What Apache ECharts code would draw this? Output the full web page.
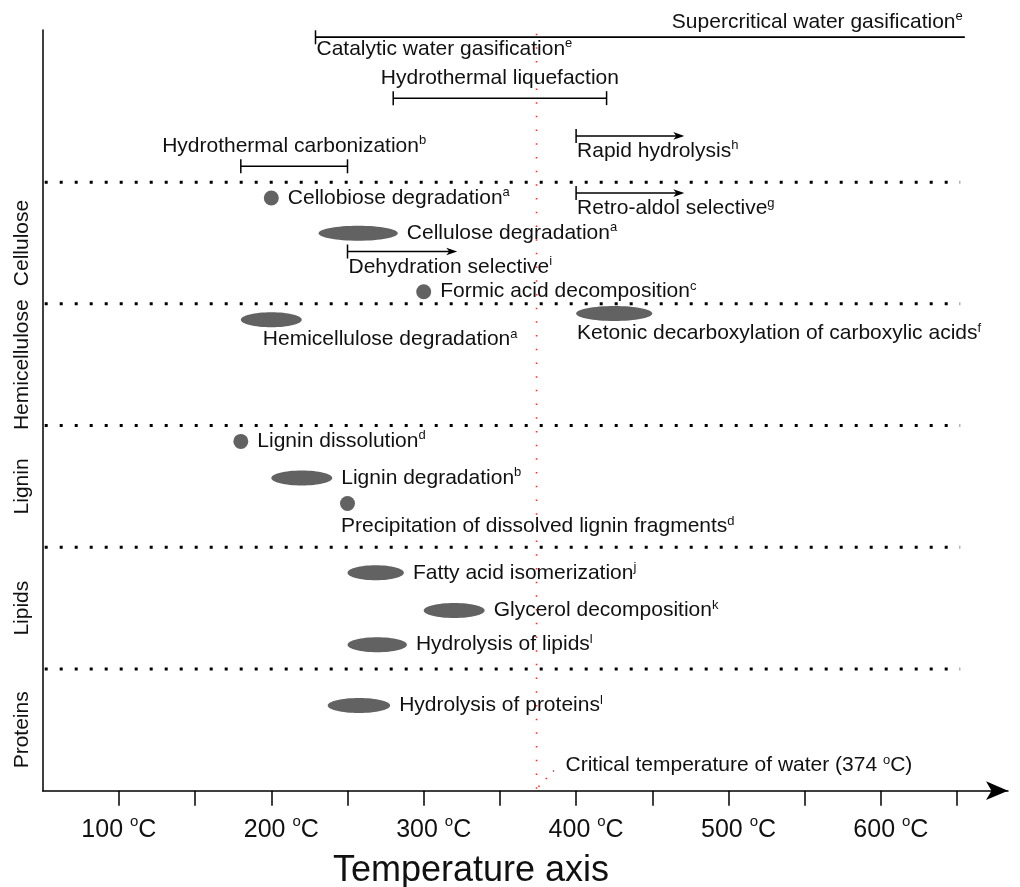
<!DOCTYPE html>
<html>
<head>
<meta charset="utf-8">
<script src="https://cdn.jsdelivr.net/npm/echarts@6/dist/echarts.min.js"></script>
<style>html,body{margin:0;padding:0;background:#fff}#c{width:1020px;height:887px}</style>
</head>
<body>
<div id="c"></div>
<script>
// ---------------- data ----------------
const tickTemps = [100, 150, 200, 250, 300, 350, 400, 450, 500, 550, 600, 650];
const labelTemps = [100, 200, 300, 400, 500, 600];
const axisTitle = 'Temperature axis';

const groupNames = ['Proteins', 'Lipids', 'Lignin', 'Hemicellulose', 'Cellulose'];
const groupCenters = [0.5, 1.5, 2.5, 3.5, 4.5];
const groupBounds = [1, 2, 3, 4, 5];
const boundFrom = 50, boundTo = 652;

const criticalTemp = 374;
const criticalTop = 6.22;

// ranges (°C) drawn as lines with end bars
const rangeNames = ['Catalytic water gasification', 'Supercritical water gasification', 'Hydrothermal liquefaction', 'Hydrothermal carbonization'];
const rangeNotes = ['e', 'e', '', 'b'];
const rangeStart = [229, 229, 280, 180];
const rangeEnd = [655, 655, 420, 250];
const rangeRow = [6.19, 6.19, 5.69, 5.13];
const rangeBars = ['start', 'none', 'both', 'both'];
const rangePlace = ['below', 'aboveEnd', 'above', 'above'];

// open-ended ranges drawn as arrows
const arrowNames = ['Rapid hydrolysis', 'Retro-aldol selective', 'Dehydration selective'];
const arrowNotes = ['h', 'g', 'i'];
const arrowStart = [400, 400, 250];
const arrowEnd = [471, 471, 322];
const arrowRow = [5.38, 4.91, 4.43];

// temperature zones drawn as ellipses
const zoneNames = ['Cellulose degradation', 'Hemicellulose degradation', 'Ketonic decarboxylation of carboxylic acids', 'Lignin degradation', 'Fatty acid isomerization', 'Glycerol decomposition', 'Hydrolysis of lipids', 'Hydrolysis of proteins'];
const zoneNotes = ['a', 'a', 'f', 'b', 'j', 'k', 'l', 'l'];
const zoneStart = [231, 180, 400, 200, 250, 300, 250, 237];
const zoneEnd = [283, 220, 450, 240, 287, 340, 289, 278];
const zoneRow = [4.58, 3.87, 3.92, 2.57, 1.79, 1.48, 1.20, 0.70];
const zonePlace = ['right', 'belowInset', 'below', 'right', 'right', 'right', 'right', 'right'];

// single temperatures drawn as dots
const pointNames = ['Cellobiose degradation', 'Formic acid decomposition', 'Lignin dissolution', 'Precipitation of dissolved lignin fragments'];
const pointNotes = ['a', 'c', 'd', 'd'];
const pointTemp = [200, 300, 180, 250];
const pointRow = [4.87, 4.10, 2.87, 2.36];
const pointPlace = ['right', 'right', 'right', 'below'];

// ---------------- styles ----------------
const FONT = '"Liberation Sans", Arial, Helvetica, sans-serif';
const TXT = '#111111';
const MARK = '#626262';
const richStyle = {
  t: { fontSize: 21, fontFamily: FONT, fill: TXT, lineHeight: 24 },
  s: { fontSize: 13, fontFamily: FONT, fill: TXT, verticalAlign: 'top', lineHeight: 15 }
};
function supText(name, note) {
  return '{t|' + name + '}' + (note ? '{s|' + note + '}' : '');
}
function labelEl(text, x, y, align) {
  return { type: 'text', x: x, y: y, style: { text: text, align: align, verticalAlign: 'middle', rich: richStyle, fontSize: 21, fontFamily: FONT, fill: TXT } };
}
const belowGap = { range: 12, arrow: 15.5, zone: 20, point: 23 };
function placeLabel(place, kind, left, right, cy) {
  if (place === 'right') return [right + 9, cy, 'left'];
  if (place === 'below') return [left + 1, cy + belowGap[kind], 'left'];
  if (place === 'belowInset') return [left + 22, cy + belowGap[kind], 'left'];
  if (place === 'above') return [(left + right) / 2, cy - 20, 'center'];
  return [right - 2, cy - 15, 'right'];
}
const lineStyle = { stroke: '#000', lineWidth: 1.5 };
function vbar(x, y) {
  return { type: 'line', shape: { x1: x, y1: y - 7, x2: x, y2: y + 7 }, style: lineStyle };
}

const chart = echarts.init(document.getElementById('c'), null, { renderer: 'canvas' });

chart.setOption({
  animation: false,
  backgroundColor: '#ffffff',
  title: {
    text: axisTitle, left: 333, top: 853, padding: 0,
    textStyle: { fontSize: 36, fontWeight: 'normal', fontFamily: FONT, color: TXT }
  },
  grid: { left: 42.7, top: 30, right: 12, bottom: 96.3, containLabel: false, outerBoundsMode: 'none' },
  xAxis: {
    type: 'value', min: 50, max: 683.4,
    axisLine: { show: true, onZero: false, symbol: ['none', 'arrow'], symbolSize: [14, 22], lineStyle: { color: '#000', width: 1.5 } },
    axisTick: { show: true, customValues: tickTemps, length: 15, inside: false, lineStyle: { color: '#000', width: 1.5 } },
    axisLabel: {
      customValues: labelTemps, margin: 24,
      formatter: function (v) {
        return (v === labelTemps[0] ? '' : '{p| }') + '{n|' + v + ' }{o|o}{n|C}';
      },
      rich: {
        p: { width: 20, fontSize: 25 },
        n: { fontSize: 25, fontFamily: FONT, color: TXT, lineHeight: 30 },
        o: { fontSize: 15, fontFamily: FONT, color: TXT, verticalAlign: 'top', lineHeight: 20 }
      }
    },
    splitLine: { show: false }
  },
  yAxis: {
    type: 'value', min: 0, max: 6.25,
    axisLine: { show: true, onZero: false, lineStyle: { color: '#000', width: 1.5 } },
    axisTick: { show: false },
    splitLine: { show: false },
    axisLabel: {
      customValues: groupCenters, rotate: 90, margin: 10,
      fontSize: 21, fontFamily: FONT, color: TXT,
      formatter: function (v) {
        for (let i = 0; i < groupCenters.length; i++) if (Math.abs(groupCenters[i] - v) < 1e-6) return groupNames[i];
        return '';
      }
    }
  },
  series: [
    { // dotted separators between groups
      type: 'custom', silent: true,
      data: groupBounds.map(function (b) { return [boundFrom, boundTo, b]; }),
      encode: { x: [0, 1], y: 2 },
      renderItem: function (params, api) {
        const a = api.coord([api.value(0), api.value(2)]);
        const b = api.coord([api.value(1), api.value(2)]);
        return { type: 'line', shape: { x1: a[0] + 2, y1: a[1], x2: b[0], y2: b[1] }, style: { stroke: '#000', lineWidth: 3, lineDash: [3, 12] } };
      }
    },
    { // critical temperature of water
      type: 'custom', silent: true,
      data: [[criticalTemp, 0, criticalTop]],
      encode: { x: 0, y: [1, 2] },
      renderItem: function (params, api) {
        const a = api.coord([api.value(0), api.value(1)]);
        const b = api.coord([api.value(0), api.value(2)]);
        const red = '#ff2a2a';
        return { type: 'group', children: [
          { type: 'line', shape: { x1: a[0], y1: b[1], x2: a[0], y2: a[1] }, style: { stroke: red, lineWidth: 1.5, lineDash: [1.5, 12.2] } },
          { type: 'line', shape: { x1: a[0] + 2, y1: a[1] - 4, x2: a[0] + 22, y2: a[1] - 25 }, style: { stroke: red, lineWidth: 1.5, lineDash: [1.5, 9] } },
          labelEl('{t|Critical temperature of water (' + criticalTemp + ' }{s|o}{t|C)}', a[0] + 29, a[1] - 25, 'left')
        ] };
      }
    },
    { // ranges
      type: 'custom', silent: true,
      data: rangeStart.map(function (s, i) { return [s, rangeEnd[i], rangeRow[i]]; }),
      encode: { x: [0, 1], y: 2 },
      renderItem: function (params, api) {
        const i = params.dataIndex;
        const a = api.coord([api.value(0), api.value(2)]);
        const b = api.coord([api.value(1), api.value(2)]);
        const ch = [{ type: 'line', shape: { x1: a[0], y1: a[1], x2: b[0], y2: b[1] }, style: lineStyle }];
        if (rangeBars[i] === 'start' || rangeBars[i] === 'both') ch.push(vbar(a[0], a[1]));
        if (rangeBars[i] === 'both') ch.push(vbar(b[0], b[1]));
        const p = placeLabel(rangePlace[i], 'range', a[0], b[0], a[1]);
        ch.push(labelEl(supText(rangeNames[i], rangeNotes[i]), p[0], p[1], p[2]));
        return { type: 'group', children: ch };
      }
    },
    { // arrows
      type: 'custom', silent: true,
      data: arrowStart.map(function (s, i) { return [s, arrowEnd[i], arrowRow[i]]; }),
      encode: { x: [0, 1], y: 2 },
      renderItem: function (params, api) {
        const i = params.dataIndex;
        const a = api.coord([api.value(0), api.value(2)]);
        const b = api.coord([api.value(1), api.value(2)]);
        const x = b[0], y = b[1];
        const ch = [
          { type: 'line', shape: { x1: a[0], y1: a[1], x2: x - 6, y2: y }, style: lineStyle },
          vbar(a[0], a[1]),
          { type: 'polygon', shape: { points: [[x, y], [x - 11, y - 3.8], [x - 8, y], [x - 11, y + 3.8]] }, style: { fill: '#000' } }
        ];
        const p = placeLabel('below', 'arrow', a[0], b[0], a[1]);
        ch.push(labelEl(supText(arrowNames[i], arrowNotes[i]), p[0], p[1], p[2]));
        return { type: 'group', children: ch };
      }
    },
    { // ellipses
      type: 'custom', silent: true,
      data: zoneStart.map(function (s, i) { return [s, zoneEnd[i], zoneRow[i]]; }),
      encode: { x: [0, 1], y: 2 },
      renderItem: function (params, api) {
        const i = params.dataIndex;
        const a = api.coord([api.value(0), api.value(2)]);
        const b = api.coord([api.value(1), api.value(2)]);
        const ch = [{ type: 'ellipse', shape: { cx: (a[0] + b[0]) / 2, cy: a[1], rx: (b[0] - a[0]) / 2, ry: 7.5 }, style: { fill: MARK } }];
        const p = placeLabel(zonePlace[i], 'zone', a[0], b[0], a[1]);
        ch.push(labelEl(supText(zoneNames[i], zoneNotes[i]), p[0], p[1], p[2]));
        return { type: 'group', children: ch };
      }
    },
    { // dots
      type: 'custom', silent: true,
      data: pointTemp.map(function (t, i) { return [t, pointRow[i]]; }),
      encode: { x: 0, y: 1 },
      renderItem: function (params, api) {
        const i = params.dataIndex;
        const c = api.coord([api.value(0), api.value(1)]);
        const ch = [{ type: 'circle', shape: { cx: c[0], cy: c[1], r: 7.5 }, style: { fill: MARK } }];
        const p = placeLabel(pointPlace[i], 'point', c[0] - 7.5, c[0] + 7.5, c[1]);
        ch.push(labelEl(supText(pointNames[i], pointNotes[i]), p[0], p[1], p[2]));
        return { type: 'group', children: ch };
      }
    }
  ]
});
</script>
</body>
</html>
